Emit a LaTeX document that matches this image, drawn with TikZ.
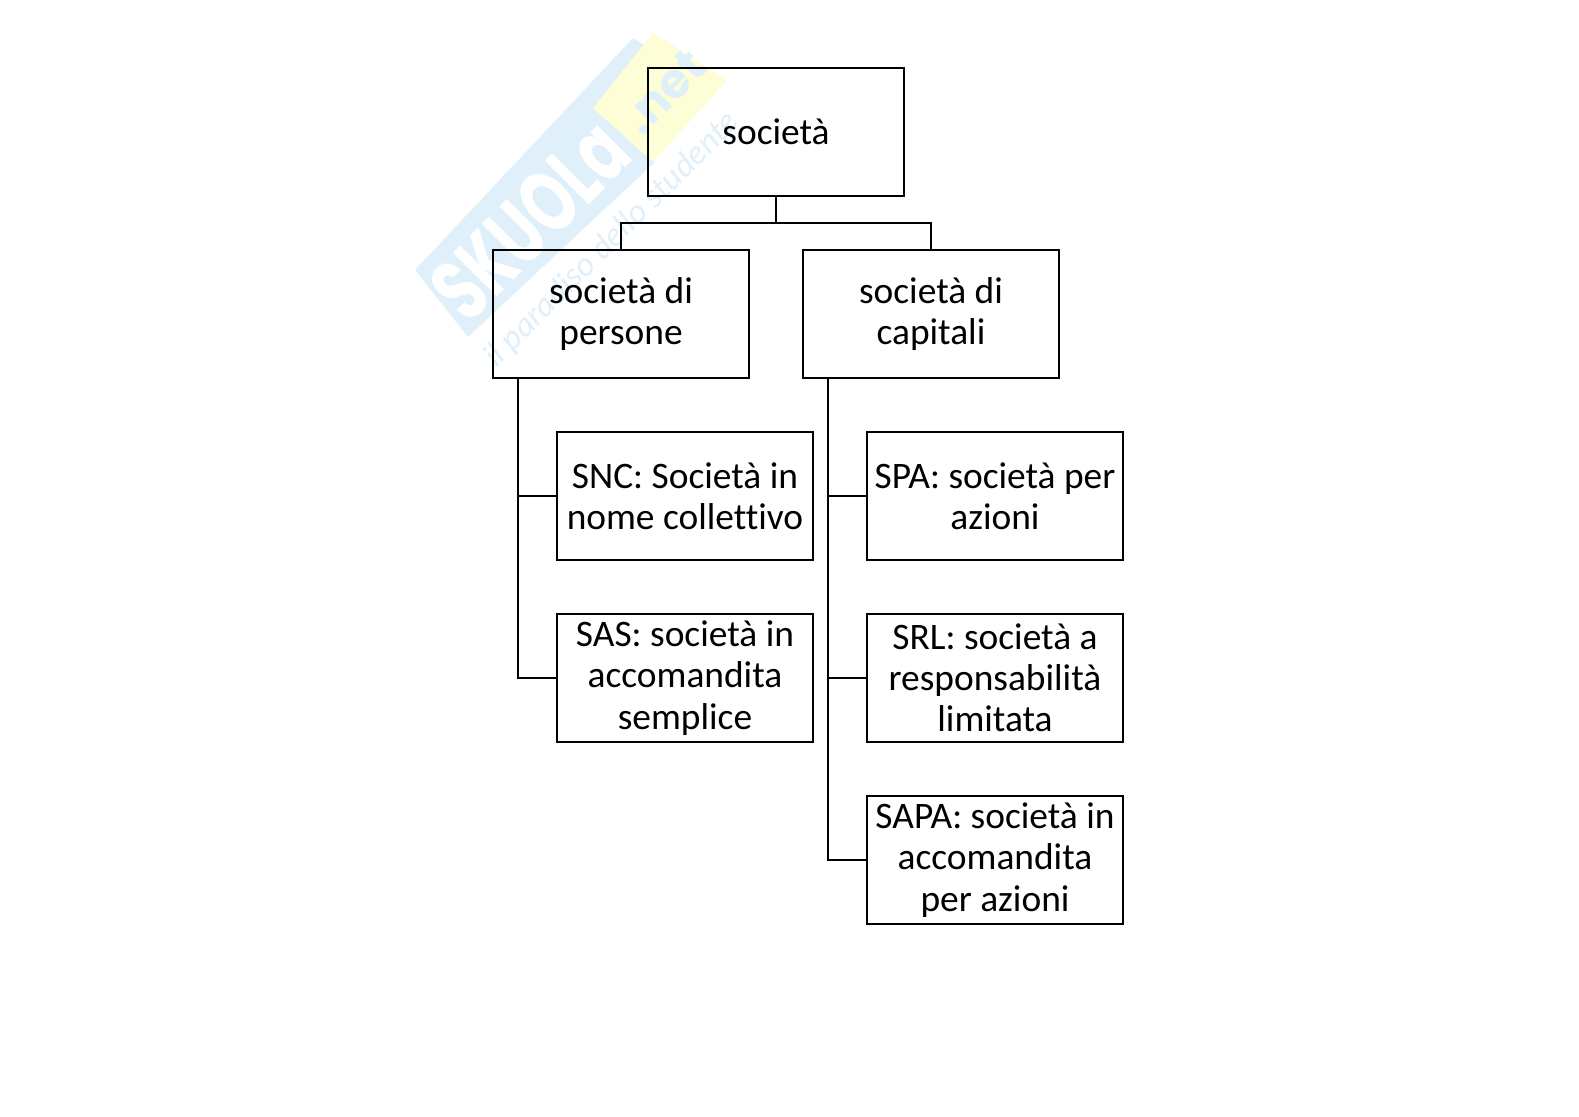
\documentclass[tikz,border=0pt]{standalone}
\usepackage{fontspec}
\setmainfont[Ligatures=NoCommon]{Carlito}
\newfontfamily\markfont{Poppins}
\definecolor{markblue}{RGB}{224,240,250}
\definecolor{markyellow}{RGB}{253,253,214}
\tikzset{
  entebox/.style={draw=black,line width=1.4pt,fill=none,minimum width=128pt,minimum height=64pt,
    inner sep=0pt,align=center,font=\fontsize{18.7}{20.6}\selectfont},
  link/.style={draw=black,line width=1.4pt}
}
\begin{document}
\begin{tikzpicture}[x=0.5pt,y=-0.5pt]
  \useasboundingbox (0,0) rectangle (1579,1116);

  % watermark
  \fill[markblue] (415,270) -- (633,38) -- (660,55) -- (655,162) -- (468,337) -- cycle;
  \fill[markyellow] (593,108) -- (653,33) -- (727,80) -- (653,162) -- cycle;
  \node[rotate=45,xscale=0.68,text=white,font=\markfont\fontsize{44}{44}\bfseries\selectfont] (marktitle) at (530,220) {SKUOLa};
  \node[rotate=45,text=markblue,font=\markfont\fontsize{24}{24}\bfseries\selectfont] (marknet) at (664,92) {.net};
  \node[rotate=45,text=markblue,font=\fontsize{17}{17}\itshape\selectfont] (markline) at (612,240) {il paradiso dello studente};

  \node[entebox] (societa) at (776,132) {società};
  \node[entebox] (persone) at (621,314) {società di\\persone};
  \node[entebox] (capitali) at (931,314) {società di\\capitali};

  \node[entebox] (snc) at (685,496) {SNC: Società in\\nome collettivo};
  \node[entebox] (sas) at (685,678) {SAS: società in\\accomandita\\semplice};
  \node[entebox] (spa) at (995,496) {SPA: società per\\azioni};
  \node[entebox] (srl) at (995,678) {SRL: società a\\responsabilità\\limitata};
  \node[entebox] (sapa) at (995,860) {SAPA: società in\\accomandita\\per azioni};

  \coordinate (busl) at (621,223);
  \coordinate (busr) at (931,223);
  \coordinate (trunkl) at (518,378);
  \coordinate (trunkr) at (828,378);

  \draw[link] (societa.south) -- (societa.south |- busl);
  \draw[link] (persone.north) -- (busl) -- (busr) -- (capitali.north);

  \draw[link] (trunkl) |- (snc.west);
  \draw[link] (trunkl) |- (sas.west);
  \draw[link] (trunkr) |- (spa.west);
  \draw[link] (trunkr) |- (srl.west);
  \draw[link] (trunkr) |- (sapa.west);
\end{tikzpicture}
\end{document}
